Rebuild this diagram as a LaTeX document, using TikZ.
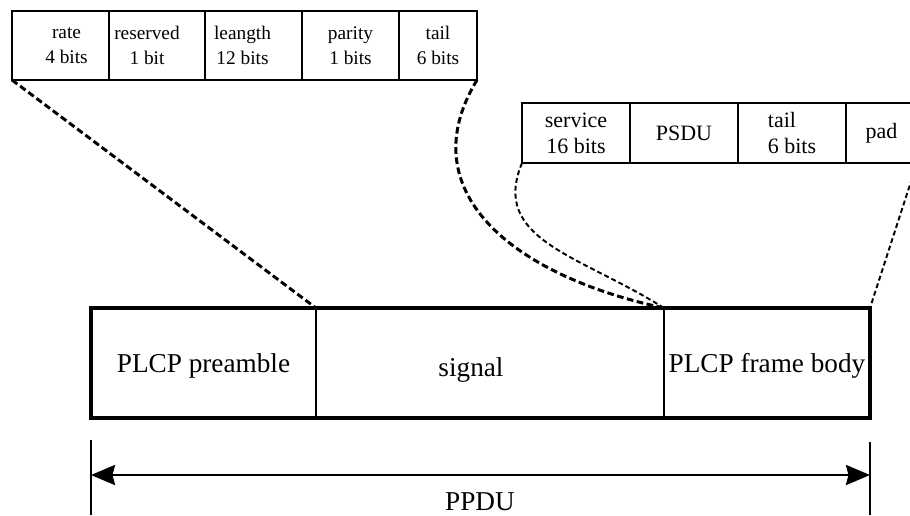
\documentclass[tikz,border=0pt]{standalone}
\usepackage{fontspec}
\setmainfont{Liberation Serif}
\usetikzlibrary{arrows.meta}

\newlength{\pxl}
\setlength{\pxl}{0.02cm}

\tikzset{
  field/.style={draw, rectangle, anchor=north west, outer sep=0pt, inner sep=0pt, align=center},
  sigfield/.style={field, line width=1.2pt, minimum height=69\pxl, minimum width=#1\pxl,
    font=\fontsize{11}{14.5}\selectfont},
  datfield/.style={field, line width=1pt, minimum height=60\pxl, minimum width=#1\pxl,
    font=\fontsize{12.5}{14.7}\selectfont},
  ppdufield/.style={field, line width=1.6pt, minimum height=110\pxl, minimum width=#1\pxl,
    font=\fontsize{15.5}{18}\selectfont, text depth=0pt},
  sigtext/.style={font=\fontsize{11}{14.5}\selectfont, align=center},
  bigtext/.style={font=\fontsize{15.5}{18}\selectfont, text depth=0pt},
  bigdash/.style={line width=1.7pt, dash pattern=on 3.8pt off 2pt},
  smalldash/.style={line width=1.1pt, dash pattern=on 2.8pt off 1.7pt},
}

\begin{document}
\begin{tikzpicture}[x=0.02cm, y=-0.02cm]
            \tikzstyle{bar}=[line width=1.3pt]
            \useasboundingbox (0,0) rectangle (910,515);
            \clip (0,0) rectangle (910,515);

            \node[sigfield=97, label={[sigtext, xshift=6\pxl]center:{rate\\4 bits}}] (rate) at (12,11) {};
            \node[sigfield=96, label={[sigtext, xshift=-10\pxl]center:{reserved\\1 bit}}] (res) at (109,11) {};
            \node[sigfield=97, label={[sigtext, xshift=-11\pxl]center:{leangth\\12 bits}}] (len) at (205,11) {};
            \node[sigfield=97] (par) at (302,11) {parity\\1 bits};
            \node[sigfield=78] (tailA) at (399,11) {tail\\6 bits};

            \node[datfield=108] (serv) at (522,103) {service\\16 bits};
            \node[datfield=108] (psdu) at (630,103) {PSDU};
            \node[datfield=108, align=left] (tailB) at (738,103) {tail\\6 bits};
            \node[datfield=71] (pad) at (846,103) {pad};

            \node[ppdufield=225] (pre) at (91,308) {PLCP preamble};
            \node[ppdufield=348, label={[bigtext, xshift=-19\pxl, yshift=-4\pxl]center:signal}] (sig) at (316,308) {};
            \node[ppdufield=206] (body) at (664,308) {PLCP frame body};
            \draw[line width=2.3pt] (pre.north west) rectangle (body.south east);

            \draw[bigdash] (rate.south west) -- (sig.north west);
            \draw[bigdash] (tailA.south east) .. controls (410,190) and (510,275) .. (sig.north east);
            \draw[smalldash] (serv.south west) .. controls (490,240) and (580,255) .. (sig.north east);
            \draw[smalldash] (pad.south east) -- (body.north east);

            \coordinate (ltop) at (91,440);
            \coordinate (lbot) at (91,515);
            \coordinate (rtop) at (870,442);
            \coordinate (rbot) at (870,515);
            \coordinate (la) at (91,475);
            \coordinate (ra) at (870,475);

            \draw[bar] (ltop) -- (lbot);
            \draw[bar] (rtop) -- (rbot);
            \draw[line width=1.5pt, {Stealth[length=0.48cm, width=0.4cm, inset=0.05cm]}-{Stealth[length=0.48cm, width=0.4cm, inset=0.05cm]}] (la) -- (ra);

            \node[bigtext] (ppdu) at (480,502) {PPDU};
        \end{tikzpicture}
\end{document}
